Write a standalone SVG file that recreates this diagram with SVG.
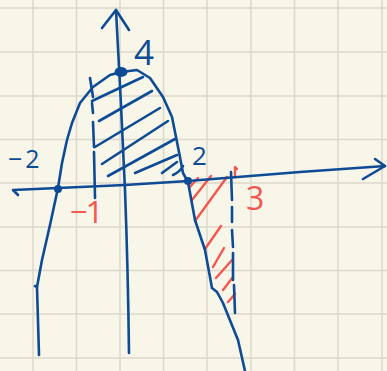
<svg xmlns="http://www.w3.org/2000/svg" width="387" height="371" viewBox="0 0 387 371">
<style>
.grid line{stroke:#dcd8cb;stroke-width:1.5}
.b{fill:none;stroke:#0d4b95;stroke-width:2.6;stroke-linecap:round;stroke-linejoin:round}
.r{fill:none;stroke:#f4574f;stroke-width:2.4;stroke-linecap:round;stroke-linejoin:round}
.tb{fill:#0d4b95;font-family:"Open Sans","Noto Sans","DejaVu Sans",sans-serif;font-weight:400}
.tr{fill:#f4574f;font-family:"Open Sans","Noto Sans","DejaVu Sans",sans-serif;font-weight:400}
</style>
<rect width="387" height="371" fill="#f8f5e9"/>
<g class="grid" id="grid">
<line x1="33" y1="0" x2="33" y2="371"/><line x1="76.5" y1="0" x2="76.5" y2="371"/><line x1="120" y1="0" x2="120" y2="371"/><line x1="163.5" y1="0" x2="163.5" y2="371"/><line x1="207" y1="0" x2="207" y2="371"/><line x1="251" y1="0" x2="251" y2="371"/><line x1="294.5" y1="0" x2="294.5" y2="371"/><line x1="338" y1="0" x2="338" y2="371"/><line x1="382" y1="0" x2="382" y2="371"/>
<line x1="0" y1="8" x2="387" y2="8"/><line x1="0" y1="52" x2="387" y2="52"/><line x1="0" y1="96" x2="387" y2="96"/><line x1="0" y1="139.5" x2="387" y2="139.5"/><line x1="0" y1="183" x2="387" y2="183"/><line x1="0" y1="227" x2="387" y2="227"/><line x1="0" y1="270.5" x2="387" y2="270.5"/><line x1="0" y1="314" x2="387" y2="314"/><line x1="0" y1="358" x2="387" y2="358"/>
</g>
<g id="hatch-blue">
<path class="b" d="M92,101 L143,77"/>
<path class="b" d="M99,121 L152,91"/>
<path class="b" d="M95,147 L160,108"/>
<path class="b" d="M102,164 L168,121"/>
<path class="b" d="M108,176 L175,139"/>
<path class="b" d="M135,173 L177,155"/>
<path class="b" d="M162,173 L177,162"/>
<path class="b" d="M173,175 Q180,172 183,166"/>
</g>
<g id="hatch-red">
<path class="r" d="M189,188 L198,178"/>
<path class="r" d="M192,200 L211,176"/>
<path class="r" d="M195,221 L227,177"/>
<path class="r" d="M205,249 L221,226"/>
<path class="r" d="M213,267 L224,248"/>
<path class="r" d="M216,278 L232,260"/>
<path class="r" d="M223,290 L233,277"/>
<path class="r" d="M228,302 L235,294"/>
<path class="r" d="M235,177 L235,167 L237,169"/>
</g>
<g id="axes">
<path class="b" d="M18,195 L13,190 L58,188 L125,185 L188,181 L300,172 L385,166"/>
<path class="b" d="M375,159 L385,166 L363,179"/>
<path class="b" d="M116,10 Q121,100 125,190 Q128,270 129,353"/>
<path class="b" d="M102,28 L116,10 L129,30"/>
</g>
<g id="parabola">
<path class="b" d="M39,355 L37,287 L35,286 L37,287 L42,260 L50,225 L58,188 L62,163 L67,140 L72,123 L80,103 L93,87 L110,75 L121,72 L137,70 L150,78 L163,97 L172,117 L178,147 L183,173 L188,182 L195,220 L205,250 L212,288 L217,292 L223,303 L238,340 L245,371"/>
<circle cx="58" cy="189" r="4" fill="#0d4b95"/>
<circle cx="188" cy="181" r="4" fill="#0d4b95"/>
<ellipse cx="121" cy="72" rx="6.5" ry="5" fill="#0d4b95"/>
</g>
<g id="bounds">
<path class="b" d="M90,78 L93,97 M92,103 L93,113 M93,122 L94,147 M94,152 L95,198"/>
<path class="b" d="M231,172 L232,200 M232,207 L232,222 M232,230 L233,247 M233,253 L233,280 M234,285 L235,313"/>
</g>
<g id="labels">
<text class="tb" x="134" y="65" font-size="35">4</text>
<text class="tb" x="8" y="168" font-size="25" letter-spacing="3">−2</text>
<text class="tb" x="192" y="165" font-size="26">2</text>
<text class="tr" x="246" y="210" font-size="32">3</text>
<text class="tr" x="70" y="223" font-size="31" letter-spacing="-2">−1</text>
</g>
</svg>
